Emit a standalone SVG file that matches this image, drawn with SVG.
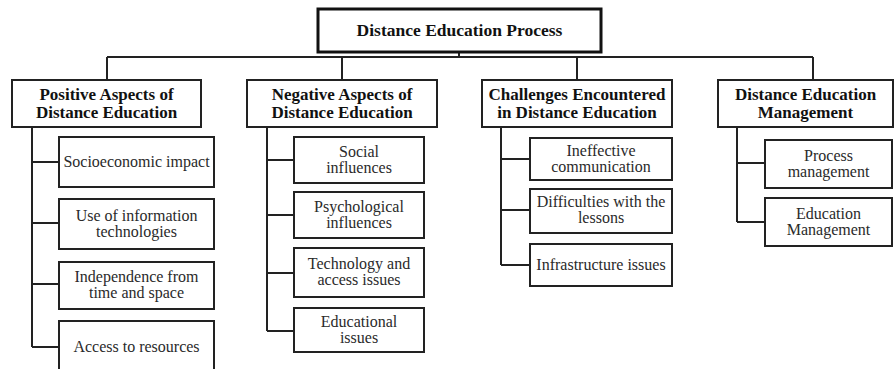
<svg xmlns="http://www.w3.org/2000/svg" width="895" height="369" viewBox="0 0 895 369">
<style>
.box{fill:#fff;stroke:#222;stroke-width:2}
.rootbox{fill:#fff;stroke:#111;stroke-width:3}
.head{font-weight:bold;font-size:17px;fill:#111;text-anchor:middle}
.item{font-size:16px;fill:#2a2a2a;text-anchor:middle}
.wire{fill:none;stroke:#222;stroke-width:2}
</style>
<rect width="895" height="369" fill="#fff"/>
<g id="connectors">
<path class="wire" d="M459 52V57M107 57H813M107 57V80M342 57V80M577 57V80M813 57V80"/>
<path class="wire" d="M32 127V347M32 162H59M32 223H59M32 284H59M32 347H59"/>
<path class="wire" d="M267 127V331M267 160H294M267 215H294M267 273H294M267 331H294"/>
<path class="wire" d="M501 127V265M501 159H530M501 210H530M501 265H530"/>
<path class="wire" d="M737 127V222M737 163H765M737 222H765"/>
</g>
<g id="root"><rect class="rootbox" x="318" y="9" width="283" height="43"/><text class="head" style="font-family:'Liberation Serif',serif;font-size:17.5px" x="459.5" y="36">Distance Education Process</text></g>
<g id="positive"><rect class="box" x="12" y="80" width="189" height="47"/><text class="head" style="font-family:'Liberation Serif',serif" x="106.5" y="100">Positive Aspects of</text><text class="head" style="font-family:'Liberation Serif',serif" x="106.5" y="118">Distance Education</text></g>
<g id="negative"><rect class="box" x="247" y="80" width="190" height="47"/><text class="head" style="font-family:'Liberation Serif',serif" x="342" y="100">Negative Aspects of</text><text class="head" style="font-family:'Liberation Serif',serif" x="342" y="118">Distance Education</text></g>
<g id="challenges"><rect class="box" x="482" y="80" width="190" height="47"/><text class="head" style="font-family:'Liberation Serif',serif" x="577" y="100">Challenges Encountered</text><text class="head" style="font-family:'Liberation Serif',serif" x="577" y="118">in Distance Education</text></g>
<g id="management"><rect class="box" x="718" y="80" width="175" height="47"/><text class="head" style="font-family:'Liberation Serif',serif" x="805.5" y="100">Distance Education</text><text class="head" style="font-family:'Liberation Serif',serif" x="805.5" y="118">Management</text></g>
<g id="p1"><rect class="box" x="59" y="137" width="155" height="50"/><text class="item" style="font-family:'Liberation Serif',serif" x="136.5" y="167">Socioeconomic impact</text></g>
<g id="p2"><rect class="box" x="59" y="199" width="155" height="50"/><text class="item" style="font-family:'Liberation Serif',serif" x="136.5" y="221">Use of information</text><text class="item" style="font-family:'Liberation Serif',serif" x="136.5" y="237">technologies</text></g>
<g id="p3"><rect class="box" x="59" y="262" width="155" height="47"/><text class="item" style="font-family:'Liberation Serif',serif" x="136.5" y="282">Independence from</text><text class="item" style="font-family:'Liberation Serif',serif" x="136.5" y="298">time and space</text></g>
<g id="p4"><rect class="box" x="59" y="321" width="155" height="52"/><text class="item" style="font-family:'Liberation Serif',serif" x="136.5" y="352">Access to resources</text></g>
<g id="n1"><rect class="box" x="294" y="137" width="130" height="46"/><text class="item" style="font-family:'Liberation Serif',serif" x="359" y="157">Social</text><text class="item" style="font-family:'Liberation Serif',serif" x="359" y="173">influences</text></g>
<g id="n2"><rect class="box" x="294" y="192" width="130" height="46"/><text class="item" style="font-family:'Liberation Serif',serif" x="359" y="212">Psychological</text><text class="item" style="font-family:'Liberation Serif',serif" x="359" y="228">influences</text></g>
<g id="n3"><rect class="box" x="294" y="248" width="130" height="49"/><text class="item" style="font-family:'Liberation Serif',serif" x="359" y="269">Technology and</text><text class="item" style="font-family:'Liberation Serif',serif" x="359" y="285">access issues</text></g>
<g id="n4"><rect class="box" x="294" y="308" width="130" height="44"/><text class="item" style="font-family:'Liberation Serif',serif" x="359" y="327">Educational</text><text class="item" style="font-family:'Liberation Serif',serif" x="359" y="343">issues</text></g>
<g id="c1"><rect class="box" x="530" y="138" width="142" height="42"/><text class="item" style="font-family:'Liberation Serif',serif" x="601" y="156">Ineffective</text><text class="item" style="font-family:'Liberation Serif',serif" x="601" y="172">communication</text></g>
<g id="c2"><rect class="box" x="530" y="189" width="142" height="44"/><text class="item" style="font-family:'Liberation Serif',serif" x="601" y="207">Difficulties with the</text><text class="item" style="font-family:'Liberation Serif',serif" x="601" y="223">lessons</text></g>
<g id="c3"><rect class="box" x="530" y="244" width="142" height="42"/><text class="item" style="font-family:'Liberation Serif',serif" x="601" y="270">Infrastructure issues</text></g>
<g id="m1"><rect class="box" x="765" y="140" width="127" height="48"/><text class="item" style="font-family:'Liberation Serif',serif" x="828.5" y="161">Process</text><text class="item" style="font-family:'Liberation Serif',serif" x="828.5" y="177">management</text></g>
<g id="m2"><rect class="box" x="765" y="198" width="127" height="48"/><text class="item" style="font-family:'Liberation Serif',serif" x="828.5" y="219">Education</text><text class="item" style="font-family:'Liberation Serif',serif" x="828.5" y="235">Management</text></g>
</svg>
